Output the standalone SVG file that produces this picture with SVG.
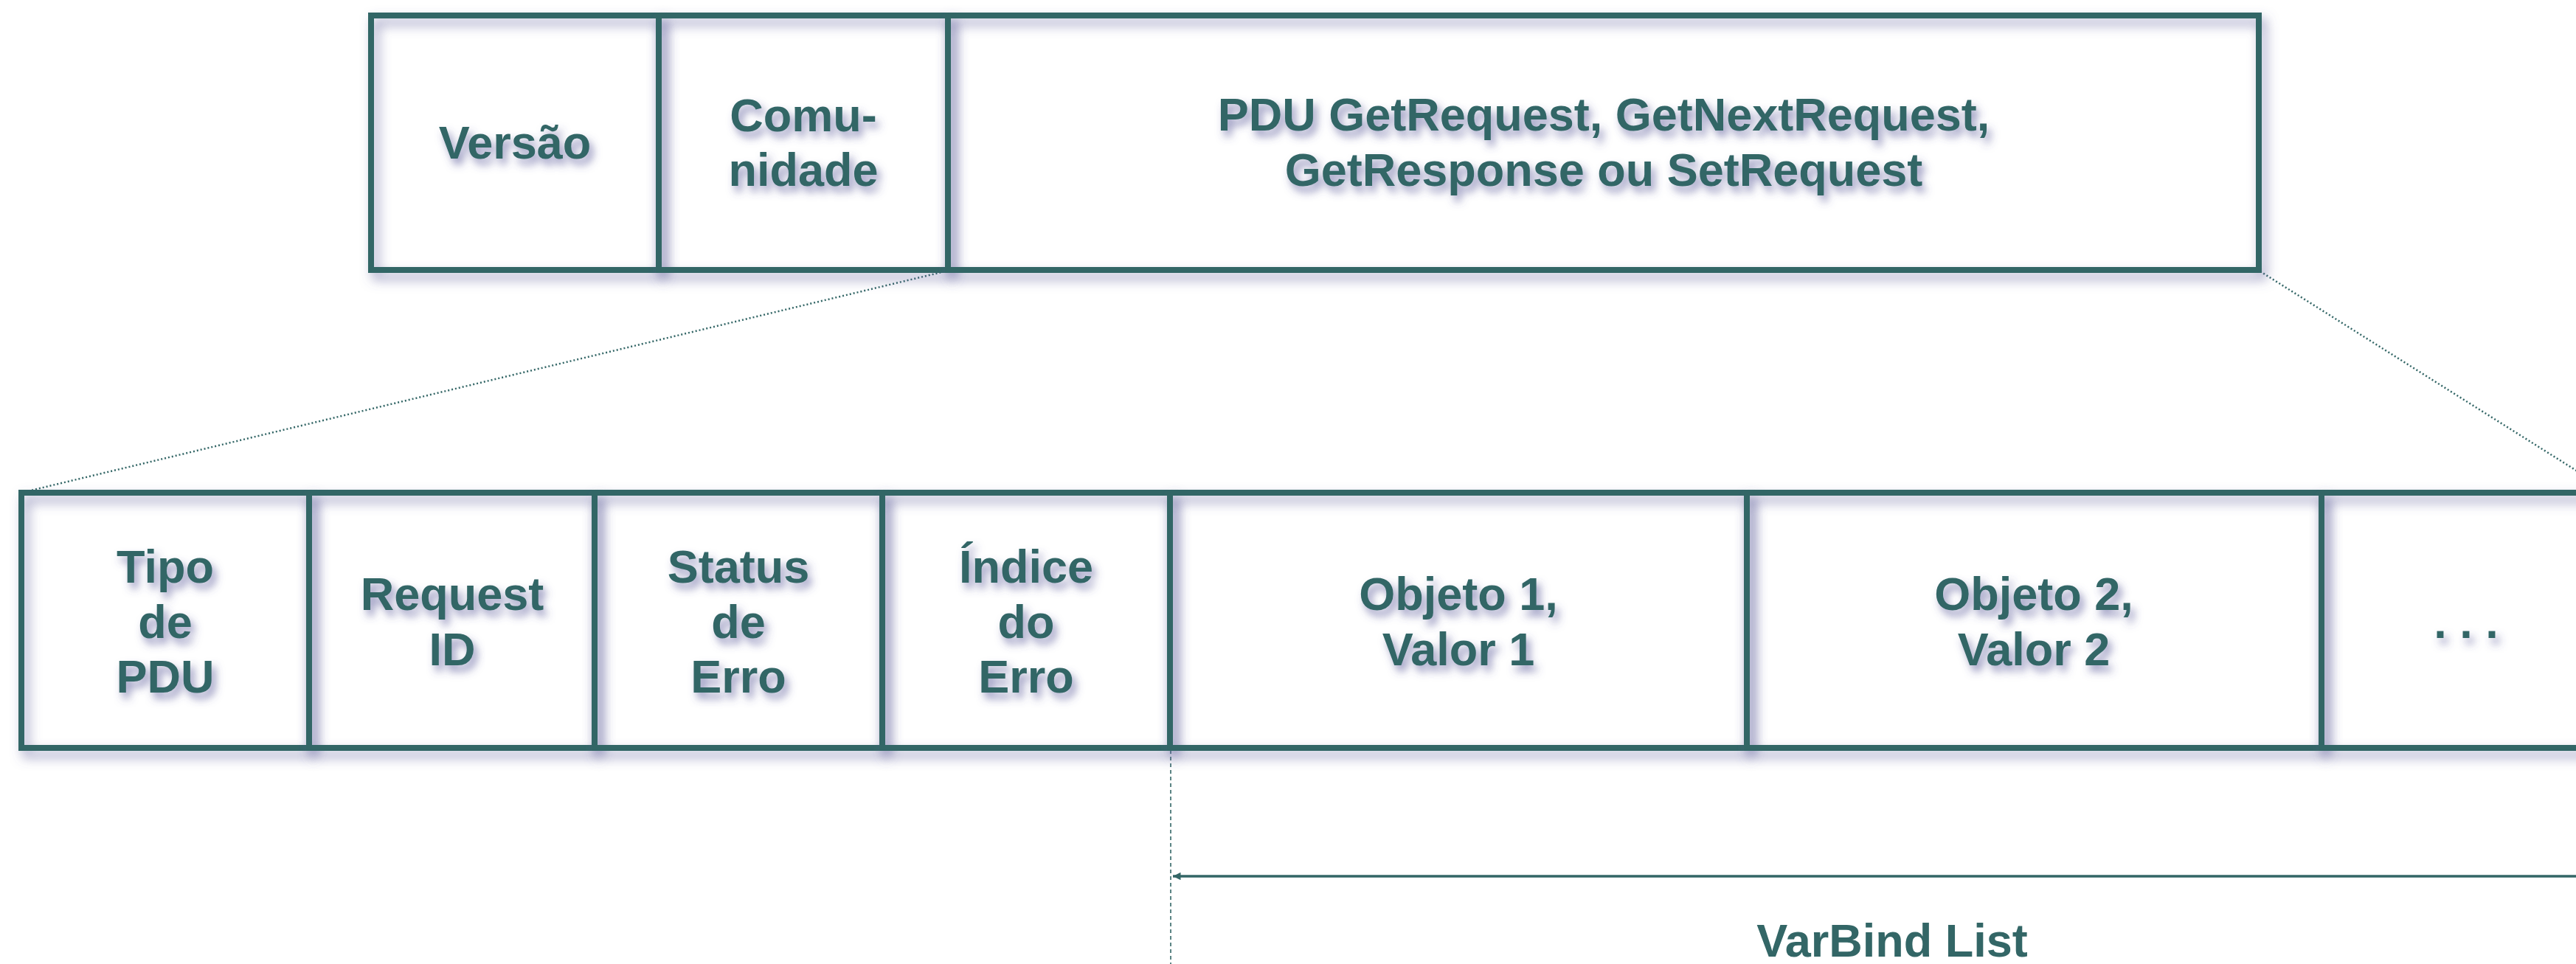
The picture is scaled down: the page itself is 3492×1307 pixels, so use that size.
<svg xmlns="http://www.w3.org/2000/svg" width="3492" height="1307" viewBox="0 0 3492 1307">
<style>
.cell{fill:none;stroke:#336666;stroke-width:8;filter:url(#sh)}
.lbl{font-family:"Liberation Sans",Arial,sans-serif;font-weight:bold;font-size:63px;fill:#336666;text-anchor:middle;filter:url(#tsh)}
.dot{fill:none;stroke:#336666;stroke-width:2.5;stroke-dasharray:2 3}
.dash{fill:none;stroke:#336666;stroke-width:1.6;stroke-dasharray:5 4}
.arr{fill:none;stroke:#336666;stroke-width:3.5}
</style>
<defs>
<filter id="sh" x="-5%" y="-20%" width="115%" height="150%">
<feDropShadow dx="6" dy="9" stdDeviation="8" flood-color="#5c5c98" flood-opacity="0.6"/>
</filter>
<filter id="tsh" x="-20%" y="-30%" width="140%" height="180%">
<feDropShadow dx="5" dy="8" stdDeviation="6" flood-color="#4e4e90" flood-opacity="0.6"/>
</filter>
<marker id="ah" viewBox="0 0 10 10" refX="0" refY="5" markerWidth="4" markerHeight="3" orient="auto" markerUnits="strokeWidth">
<path d="M0,5 L10,0 L10,10 Z" fill="#336666"/>
</marker>
</defs>
<rect x="0" y="0" width="3492" height="1307" fill="#ffffff"/>

<g id="connectors">
<line class="dot" x1="1285" y1="367" x2="29" y2="668"/>
<line class="dot" x1="3064" y1="368" x2="3540" y2="668"/>
<line class="dash" x1="1587" y1="1017" x2="1587" y2="1307"/>
<line class="arr" x1="1590" y1="1188" x2="3500" y2="1188" marker-start="url(#ah)"/>
</g>

<g id="versao">
<rect class="cell" x="503" y="21" width="390" height="345"/>
<text class="lbl" x="698" y="215">Versão</text>
</g>
<g id="comunidade">
<rect class="cell" x="893" y="21" width="392" height="345"/>
<text class="lbl" x="1089" y="178">Comu-</text>
<text class="lbl" x="1089" y="252">nidade</text>
</g>
<g id="pdu">
<rect class="cell" x="1285" y="21" width="1777" height="345"/>
<text class="lbl" x="2174" y="177">PDU GetRequest, GetNextRequest,</text>
<text class="lbl" x="2174" y="252">GetResponse ou SetRequest</text>
</g>

<g id="tipo-pdu">
<rect class="cell" x="29" y="668" width="390" height="346"/>
<text class="lbl" x="224" y="790">Tipo</text>
<text class="lbl" x="224" y="865">de</text>
<text class="lbl" x="224" y="939">PDU</text>
</g>
<g id="request-id">
<rect class="cell" x="419" y="668" width="387" height="346"/>
<text class="lbl" x="613" y="827">Request</text>
<text class="lbl" x="613" y="902">ID</text>
</g>
<g id="status-erro">
<rect class="cell" x="806" y="668" width="390" height="346"/>
<text class="lbl" x="1001" y="790">Status</text>
<text class="lbl" x="1001" y="865">de</text>
<text class="lbl" x="1001" y="939">Erro</text>
</g>
<g id="indice-erro">
<rect class="cell" x="1196" y="668" width="390" height="346"/>
<text class="lbl" x="1391" y="790">Índice</text>
<text class="lbl" x="1391" y="865">do</text>
<text class="lbl" x="1391" y="939">Erro</text>
</g>
<g id="objeto1">
<rect class="cell" x="1586" y="668" width="782" height="346"/>
<text class="lbl" x="1977" y="827">Objeto 1,</text>
<text class="lbl" x="1977" y="902">Valor 1</text>
</g>
<g id="objeto2">
<rect class="cell" x="2368" y="668" width="779" height="346"/>
<text class="lbl" x="2757" y="827">Objeto 2,</text>
<text class="lbl" x="2757" y="902">Valor 2</text>
</g>
<g id="mais">
<rect class="cell" x="3147" y="668" width="800" height="346"/>
<text class="lbl" x="3343" y="865">. . .</text>
</g>

<text id="varbind-label" x="2565" y="1297" font-family="Liberation Sans, Arial, sans-serif" font-weight="bold" font-size="63" fill="#336666" text-anchor="middle">VarBind List</text>
</svg>
